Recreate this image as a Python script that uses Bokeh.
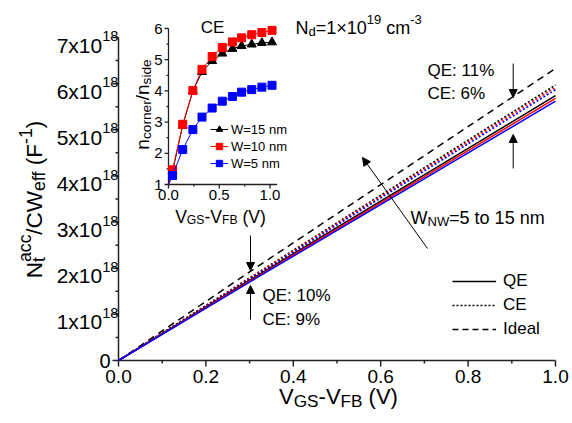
import math
from bokeh.plotting import figure
from bokeh.models import (Range1d, Label, Arrow, NormalHead, Legend, LegendItem)
from bokeh.embed import file_html
from bokeh.resources import INLINE

FONT = "Liberation Sans"

# ---------------- data (main plot, y in units of 1e18 F^-1) ----------------
x_main = [0.0, 0.3, 1.0]
ideal = [0.0, 1.92, 6.33]
ce_w15 = [0.0, 1.79, 5.97]
ce_w10 = [0.0, 1.78, 5.92]
ce_w5 = [0.0, 1.76, 5.87]
qe_w15 = [0.0, 1.74, 5.74]
qe_w10 = [0.0, 1.72, 5.68]
qe_w5 = [0.0, 1.70, 5.62]

x_ticks = [0.0, 0.2, 0.4, 0.6, 0.8, 1.0]
x_minor = [0.1, 0.3, 0.5, 0.7, 0.9]
y_ticks = [0, 1, 2, 3, 4, 5, 6, 7]
y_minor = [0.5, 1.5, 2.5, 3.5, 4.5, 5.5, 6.5]
y_exp = "18"
x_lim = (0.0, 1.0)
y_lim = (0.0, 7.0)

# ---------------- data (inset, CE) ----------------
inset_v = [0.0, 0.04, 0.14, 0.24, 0.33, 0.43, 0.53, 0.63, 0.72, 0.82, 0.92, 1.02]
ratio_w15 = [1.0, 1.42, 2.89, 3.99, 4.61, 4.96, 5.20, 5.35, 5.44, 5.49, 5.54, 5.56]
ratio_w10 = [1.0, 1.47, 2.93, 4.01, 4.69, 5.10, 5.39, 5.57, 5.70, 5.80, 5.87, 5.94]
ratio_w5 = [1.0, 1.29, 2.12, 2.76, 3.16, 3.45, 3.67, 3.82, 3.96, 4.04, 4.12, 4.18]
inset_x_ticks = [0.0, 0.5, 1.0]
inset_x_minor = [0.25, 0.75]
inset_y_ticks = [1, 2, 3, 4, 5, 6]
inset_y_minor = [1.5, 2.5, 3.5, 4.5, 5.5]
inset_x_lim = (0.0, 1.07)
inset_y_lim = (1.0, 6.0)

# ---------------- layout (pixel geometry of the two panels) ----------------
W, H = 572, 423
X0, XPX, Y0, YPX = 118.0, 437.0, 360.0, 46.14      # main: x=0 px, px/unit, y=0 px, px/unit
IX0, IXPX, IY1, IYPX = 168.0, 101.5, 184.0, 31.2   # inset: x=0 px, px/unit, y=1 px, px/unit


def mx(px):
    return (px - X0) / XPX


def my(py):
    return (Y0 - py) / YPX


def ix(px):
    return (px - IX0) / IXPX


def iy(py):
    return 1.0 + (IY1 - py) / IYPX


p = figure(width=W, height=H,
           x_range=Range1d(mx(0), mx(W)), y_range=Range1d(my(H), my(0)),
           output_backend="svg", toolbar_location=None,
           x_axis_location=None, y_axis_location=None,
           min_border=0, min_border_left=0, min_border_right=0,
           min_border_top=0, min_border_bottom=0)
p.outline_line_color = None
p.xgrid.visible = False
p.ygrid.visible = False
p.background_fill_color = "white"
p.border_fill_color = "white"
p.extra_x_ranges = {"ix": Range1d(ix(0), ix(W))}
p.extra_y_ranges = {"iy": Range1d(iy(H), iy(0))}

AX = "#222222"
IR = dict(x_range_name="ix", y_range_name="iy")

# ---------------- rich text helper ----------------
CW = {' ': 278, '(': 333, ')': 333, '-': 333, '/': 278, '=': 584, '\u00d7': 584, '%': 889,
      ':': 278, '.': 278, 'V': 667, 'G': 778, 'S': 667, 'F': 611, 'B': 667, 'N': 722,
      'C': 722, 'W': 944, 'Q': 778, 'E': 667, 'x': 500, 'a': 556, 'c': 500, 'e': 556,
      'f': 278, 't': 278, 'd': 556, 'm': 833, 'n': 556, 'o': 556, 'r': 333, 's': 500,
      'i': 222, 'l': 222}


def tw(s, fs):
    return sum(CW.get(c, 556) for c in s) * fs / 1000.0


def rich(pieces, x, y, fs, align="left", rotate=False, xr="default", yr="default",
         ratio=0.68, dy=0.0):
    items = []
    adv = 0.0
    sfs = fs * ratio
    for pc in pieces:
        kind = pc[0]
        if kind == "n":
            items.append((adv, 0.0, pc[1], fs))
            adv += tw(pc[1], fs)
        elif kind == "sub":
            items.append((adv, -0.22 * fs, pc[1], sfs))
            adv += tw(pc[1], sfs)
        elif kind == "sup":
            items.append((adv, 0.42 * fs, pc[1], sfs))
            adv += tw(pc[1], sfs)
        else:  # stacked sub + sup
            items.append((adv, -0.22 * fs, pc[1], sfs))
            items.append((adv, 0.42 * fs, pc[2], sfs))
            adv += max(tw(pc[1], sfs), tw(pc[2], sfs))
    start = {"left": 0.0, "center": -adv / 2.0, "right": -adv}[align]
    for a, s, t, size in items:
        lead = len(t) - len(t.lstrip(" "))
        a = a + tw(" " * lead, size)
        t = t.lstrip(" ")
        s = s + dy
        if rotate:
            xo, yo, ang = -s, start + a, math.pi / 2
        else:
            xo, yo, ang = start + a, s, 0.0
        p.add_layout(Label(x=x, y=y, x_offset=xo, y_offset=yo, text=t, angle=ang,
                           text_font=FONT, text_font_size=f"{size:.1f}px",
                           text_color="black", text_align="left",
                           text_baseline="alphabetic",
                           x_range_name=xr, y_range_name=yr))


# ---------------- main axes ----------------
p.segment(x0=[x_lim[0], x_lim[0]], y0=[y_lim[0], y_lim[0]],
          x1=[x_lim[1], x_lim[0]], y1=[y_lim[0], y_lim[1]],
          line_color=AX, line_width=1.5)
p.ray(x=x_ticks, y=[0.0] * len(x_ticks), length=6, angle=-math.pi / 2,
      length_units="screen", line_color=AX, line_width=1.5)
p.ray(x=x_minor, y=[0.0] * len(x_minor), length=3, angle=-math.pi / 2,
      length_units="screen", line_color=AX, line_width=1.5)
p.ray(x=[0.0] * len(y_ticks), y=y_ticks, length=6, angle=math.pi,
      length_units="screen", line_color=AX, line_width=1.5)
p.ray(x=[0.0] * len(y_minor), y=y_minor, length=3, angle=math.pi,
      length_units="screen", line_color=AX, line_width=1.5)

for v in x_ticks:
    p.add_layout(Label(x=v, y=0.0, y_offset=-9, text=f"{v:.1f}", text_font=FONT,
                       text_font_size="19px", text_align="center", text_baseline="top",
                       text_color="black"))
for v in y_ticks:
    if v == 0:
        p.add_layout(Label(x=0, y=v, x_offset=-8, text="0", text_font=FONT,
                           text_font_size="20px", text_align="right",
                           text_baseline="middle", text_color="black"))
    else:
        rich([("n", f"{v}x10"), ("sup", y_exp)], 0.0, v, 21, align="right",
             ratio=0.7, dy=-7.5)

rich([("n", "V"), ("sub", "GS"), ("n", "-V"), ("sub", "FB"), ("n", " (V)")],
     mx(338), my(396), 22, align="center", ratio=0.78)
rich([("n", "N"), ("subsup", "t", "acc"), ("n", "/CW"), ("sub", "eff"), ("n", " (F"),
      ("sup", "-1"), ("n", ")")],
     mx(34), my(199), 22.5, align="center", rotate=True, ratio=0.78)

# ---------------- main lines ----------------
p.line(x_main, ideal, line_color="black", line_width=1.5, line_dash="7 5")
p.line(x_main, ce_w15, line_color="black", line_width=1.6, line_dash="2 2")
p.line(x_main, ce_w10, line_color="#ff0000", line_width=1.6, line_dash="2 2")
p.line(x_main, ce_w5, line_color="#0000ff", line_width=1.6, line_dash="2 2")
p.line(x_main, qe_w15, line_color="black", line_width=1.5)
p.line(x_main, qe_w10, line_color="#ff0000", line_width=1.5)
p.line(x_main, qe_w5, line_color="#0000ff", line_width=1.5)

# legend keys (black style, drawn only in the legend)
nan = float("nan")
lg_qe = p.line([nan], [nan], line_color="black", line_width=1.6)
lg_ce = p.line([nan], [nan], line_color="black", line_width=1.6, line_dash="2 2")
lg_id = p.line([nan], [nan], line_color="black", line_width=1.6, line_dash="6 4")
leg = Legend(items=[LegendItem(label="QE", renderers=[lg_qe]),
                    LegendItem(label="CE", renderers=[lg_ce]),
                    LegendItem(label="Ideal", renderers=[lg_id])],
             location=(452, 84), orientation="vertical", padding=0, margin=0,
             spacing=4, glyph_width=44, glyph_height=20, label_height=20,
             label_standoff=7, label_text_font=FONT, label_text_font_size="17px",
             label_text_color="black",
             border_line_alpha=0, background_fill_alpha=0)
p.add_layout(leg)

# ---------------- annotations ----------------
rich([("n", "N"), ("sub", "d"), ("n", "=1\u00d710"), ("sup", "19"), ("n", " cm"),
      ("sup", "-3")], mx(295), my(27), 18, ratio=0.72)
rich([("n", "QE: 11%")], mx(427), my(70), 17)
rich([("n", "CE: 6%")], mx(427), my(93), 17)
rich([("n", "QE: 10%")], mx(262), my(295), 17)
rich([("n", "CE: 9%")], mx(262), my(319), 17)
rich([("n", "W"), ("sub", "NW"), ("n", "=5 to 15 nm")], mx(410), my(217), 18,
     ratio=0.72)


def arrow(x0, y0, x1, y1):
    p.add_layout(Arrow(end=NormalHead(size=8, fill_color="black", line_color="black"),
                       x_start=x0, y_start=y0, x_end=x1, y_end=y1,
                       line_color="black", line_width=1))


arrow(mx(512.7), my(63), mx(512.7), my(97))
arrow(mx(512.7), my(168), mx(512.7), my(134))
arrow(mx(250), my(235), mx(250), my(270))
arrow(mx(250), my(319), mx(250), my(285))
arrow(mx(427), my(248), mx(362), my(157))

# ---------------- inset ----------------
p.segment(x0=[inset_x_lim[0], inset_x_lim[0]], y0=[inset_y_lim[0], inset_y_lim[0]],
          x1=[inset_x_lim[0], inset_x_lim[1]], y1=[inset_y_lim[1], inset_y_lim[0]],
          line_color=AX, line_width=1.3, **IR)
p.ray(x=[0.0] * len(inset_y_ticks), y=inset_y_ticks, length=4, angle=math.pi,
      length_units="screen", line_color=AX, line_width=1.3, **IR)
p.ray(x=[0.0] * len(inset_y_minor), y=inset_y_minor, length=2, angle=math.pi,
      length_units="screen", line_color=AX, line_width=1.3, **IR)
p.ray(x=inset_x_ticks, y=[1.0] * len(inset_x_ticks), length=4, angle=-math.pi / 2,
      length_units="screen", line_color=AX, line_width=1.3, **IR)
p.ray(x=inset_x_minor, y=[1.0] * len(inset_x_minor), length=2, angle=-math.pi / 2,
      length_units="screen", line_color=AX, line_width=1.3, **IR)

for v in inset_y_ticks:
    p.add_layout(Label(x=0, y=v, x_offset=-6, text=str(v), text_font=FONT,
                       text_font_size="15px", text_align="right",
                       text_baseline="middle", text_color="black", **IR))
for v in inset_x_ticks:
    p.add_layout(Label(x=v, y=1.0, y_offset=-5, text=f"{v:.1f}", text_font=FONT,
                       text_font_size="15px", text_align="center",
                       text_baseline="top", text_color="black", **IR))

rich([("n", "V"), ("sub", "GS"), ("n", "-V"), ("sub", "FB"), ("n", " (V)")],
     ix(220), iy(216), 17.5, align="center", xr="ix", yr="iy", ratio=0.7)
rich([("n", "n"), ("sub", "corner"), ("n", "/n"), ("sub", "side")],
     ix(142), iy(104), 19, align="center", rotate=True, xr="ix", yr="iy", ratio=0.72)
rich([("n", "CE")], ix(212), iy(27), 17, align="center", xr="ix", yr="iy")

l15 = p.line(inset_v, ratio_w15, line_color="black", line_width=1, **IR)
s15 = p.scatter(inset_v[1:], ratio_w15[1:], marker="triangle", size=9,
                fill_color="black", line_color="black", **IR)
l10 = p.line(inset_v, ratio_w10, line_color="#ff0000", line_width=1, **IR)
s10 = p.scatter(inset_v[1:], ratio_w10[1:], marker="square", size=8,
                fill_color="#ff0000", line_color="#ff0000", **IR)
l5 = p.line(inset_v, ratio_w5, line_color="#0000ff", line_width=1, **IR)
s5 = p.scatter(inset_v[1:], ratio_w5[1:], marker="square", size=8,
               fill_color="#0000ff", line_color="#0000ff", **IR)

ileg = Legend(items=[LegendItem(label="W=15 nm", renderers=[l15, s15]),
                     LegendItem(label="W=10 nm", renderers=[l10, s10]),
                     LegendItem(label="W=5 nm", renderers=[l5, s5])],
              location=(210, 252), orientation="vertical", padding=0, margin=0,
              spacing=1, glyph_width=18, glyph_height=16, label_height=16,
              label_standoff=3, label_text_font=FONT, label_text_font_size="13px",
              label_text_color="black",
              border_line_alpha=0, background_fill_alpha=0)
p.add_layout(ileg)

open("out.html", "w").write(file_html(p, INLINE))
